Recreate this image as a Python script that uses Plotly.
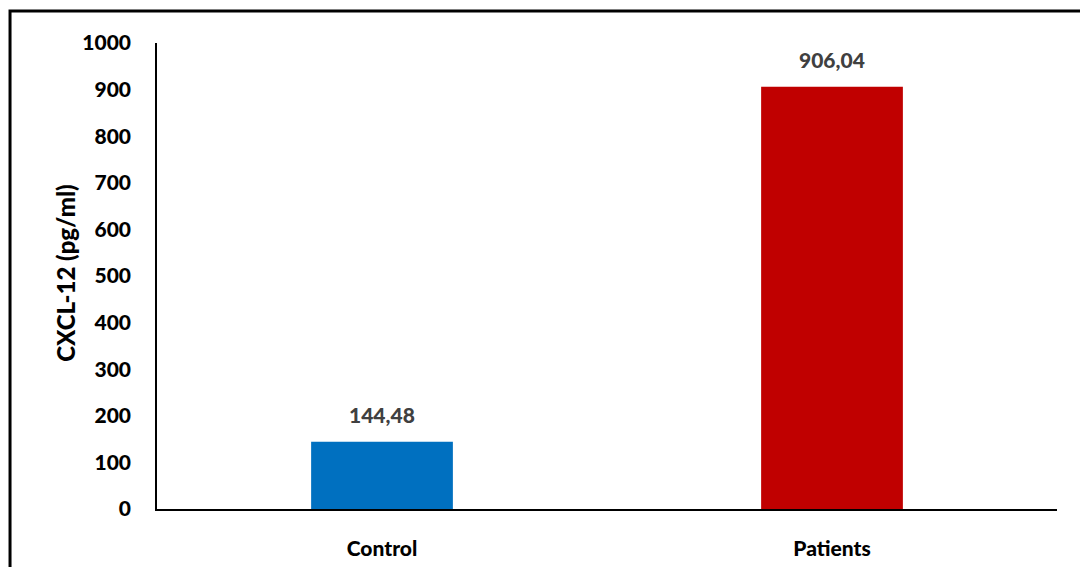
import plotly.graph_objects as go

groups = ["Control", "Patients"]
cxcl12 = [144.48, 906.04]
value_labels = ["144,48", "906,04"]
bar_colors = ["#0070C0", "#C00000"]

FONT = "Lato"
WEIGHT = 900

fig = go.Figure()
fig.add_trace(go.Bar(
    x=groups,
    y=cxcl12,
    marker=dict(color=bar_colors, line=dict(width=0)),
    width=0.315,
    hoverinfo="skip",
))

for g, v, lab in zip(groups, cxcl12, value_labels):
    fig.add_annotation(
        x=g, y=v, text=lab, showarrow=False,
        yshift=27, font=dict(family=FONT, size=21, color="#404040", weight=WEIGHT),
    )

# y-axis title, placed as a rotated annotation
fig.add_annotation(
    xref="paper", yref="paper", x=-0.101, y=0.505,
    text="CXCL-12 (pg/ml)", textangle=-90, showarrow=False,
    xanchor="center", yanchor="middle",
    font=dict(family=FONT, size=24, color="black", weight=WEIGHT),
)

# outer chart frame (top and left edges visible)
fig.add_shape(
    type="rect", xref="paper", yref="paper",
    x0=-0.1633, x1=1.3, y0=-0.3, y1=1.0687,
    line=dict(color="black", width=3), fillcolor="rgba(0,0,0,0)",
    layer="below",
)

fig.update_layout(
    width=1080, height=567,
    margin=dict(l=157, r=23, t=43, b=58),
    paper_bgcolor="white", plot_bgcolor="white",
    showlegend=False,
    font=dict(family=FONT, color="black"),
    xaxis=dict(
        showline=True, linecolor="black", linewidth=1.5,
        showgrid=False, ticks="", ticklabelstandoff=20, automargin=False,
        tickfont=dict(family=FONT, size=21, color="black", weight=WEIGHT),
    ),
    yaxis=dict(
        range=[0, 1000], dtick=100, automargin=False,
        showline=True, linecolor="black", linewidth=1.5,
        showgrid=False, zeroline=False, ticks="", ticklabelstandoff=20,
        tickfont=dict(family=FONT, size=21, color="black", weight=WEIGHT),
    ),
)

fig.write_html("out.html")
